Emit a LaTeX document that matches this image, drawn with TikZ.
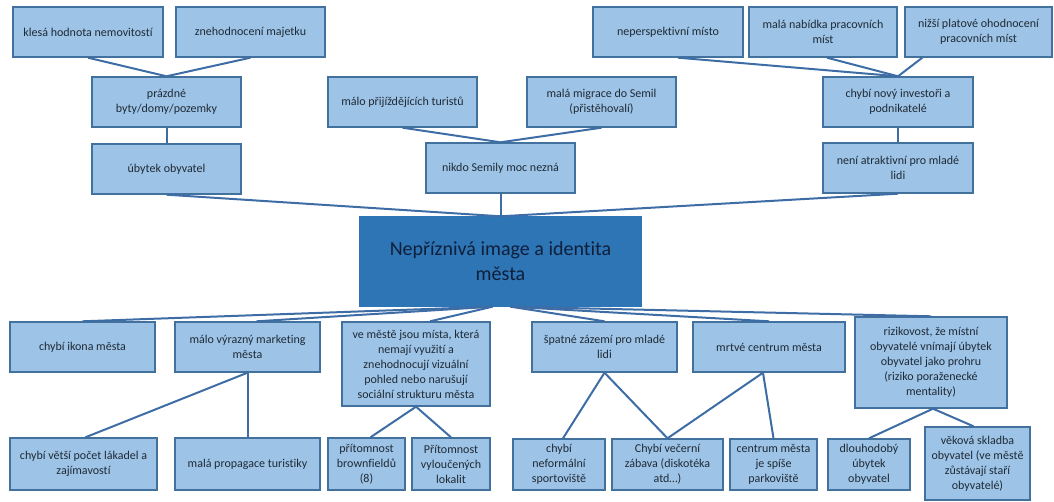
\documentclass[tikz,border=0pt]{standalone}
\usepackage{fontspec}
\setmainfont{Carlito}[Ligatures=NoCommon]
\definecolor{boxfill}{HTML}{9DC3E6}
\definecolor{boxline}{HTML}{41719C}
\definecolor{linkc}{HTML}{3E6DA6}
\definecolor{mainfill}{HTML}{2E75B6}
\definecolor{maintext}{HTML}{0F1F3A}
\definecolor{txt}{HTML}{1F2A36}
\tikzset{
  bx/.style={draw=boxline, line width=1.4pt, fill=boxfill, align=center, inner sep=2pt,
    text=txt, font=\fontsize{12}{15}\selectfont},
  mainbx/.style={draw=mainfill, line width=1.4pt, fill=mainfill, align=center, inner sep=2pt,
    text=maintext, font=\fontsize{20}{25}\selectfont},
  lk/.style={draw=linkc, line width=2pt}
}
\begin{document}
\begin{tikzpicture}[x=1pt,y=-1pt]
\useasboundingbox (0,0) rectangle (1054,502);
% top left
\node[bx, minimum width=150pt, minimum height=50pt] (kles) at (88,32) {klesá hodnota nemovitostí};
\node[bx, minimum width=149pt, minimum height=50pt] (zneh) at (250.5,32) {znehodnocení majetku};
\node[bx, minimum width=149pt, minimum height=50pt] (prazd) at (166.5,102) {prázdné\\byty/domy/pozemky};
\node[bx, minimum width=149pt, minimum height=50pt] (ubyt) at (166.5,169) {úbytek obyvatel};
% top middle
\node[bx, minimum width=149pt, minimum height=50pt] (malo) at (402.5,102) {málo přijíždějících turistů};
\node[bx, minimum width=149pt, minimum height=50pt] (migr) at (601.5,102) {malá migrace do Semil\\(přistěhovalí)};
\node[bx, minimum width=149pt, minimum height=50pt] (nikdo) at (500.5,168) {nikdo Semily moc nezná};
% top right
\node[bx, minimum width=150pt, minimum height=50pt] (nepersp) at (668,32) {neperspektivní místo};
\node[bx, minimum width=148pt, minimum height=50pt] (nabidka) at (823,32) {malá nabídka pracovních\\míst};
\node[bx, minimum width=147pt, minimum height=50pt] (nizsi) at (978.5,32) {nižší platové ohodnocení\\pracovních míst};
\node[bx, minimum width=150pt, minimum height=50pt] (invest) at (898,102) {chybí nový investoři a\\podnikatelé};
\node[bx, minimum width=150pt, minimum height=50pt] (atrakt) at (898,168) {není atraktivní pro mladé\\lidi};
% center
\node[mainbx, minimum width=281pt, minimum height=89pt] (main) at (500.5,261.5) {Nepříznivá image a identita\\města};
% bottom row 1
\node[bx, minimum width=145pt, minimum height=50pt] (ikona) at (82.5,347) {chybí ikona města};
\node[bx, minimum width=145pt, minimum height=50pt] (mark) at (247.5,347) {málo výrazný marketing\\města};
\node[bx, minimum width=148pt, minimum height=84pt] (mesto) at (416,364) {ve městě jsou místa, která\\nemají využití a\\znehodnocují vizuální\\pohled nebo narušují\\sociální strukturu města};
\node[bx, minimum width=145pt, minimum height=50pt] (zazemi) at (604.5,347) {špatné zázemí pro mladé\\lidi};
\node[bx, minimum width=152pt, minimum height=50pt] (mrtve) at (769,347) {mrtvé centrum města};
\node[bx, minimum width=152pt, minimum height=91pt] (riziko) at (931,362.5) {rizikovost, že místní\\obyvatelé vnímají úbytek\\obyvatel jako prohru\\(riziko poraženecké\\mentality)};
% bottom row 2
\node[bx, minimum width=147pt, minimum height=52pt] (lakadel) at (83.5,464) {chybí větší počet lákadel a\\zajímavostí};
\node[bx, minimum width=145pt, minimum height=52pt] (propag) at (247.5,464) {malá propagace turistiky};
\node[bx, minimum width=77pt, minimum height=52pt] (brown) at (366.5,464) {přítomnost\\brownfieldů\\(8)};
\node[bx, minimum width=78pt, minimum height=52pt] (vylouc) at (451,464) {Přítomnost\\vyloučených\\lokalit};
\node[bx, minimum width=92pt, minimum height=51pt] (neform) at (559,464.5) {chybí\\neformální\\sportoviště};
\node[bx, minimum width=111pt, minimum height=51pt] (vecer) at (667.5,464.5) {Chybí večerní\\zábava (diskotéka\\atd…)};
\node[bx, minimum width=87pt, minimum height=51pt] (centrum) at (773.5,464.5) {centrum města\\je spíše\\parkoviště};
\node[bx, minimum width=82pt, minimum height=51pt] (dlouho) at (869,464.5) {dlouhodobý\\úbytek\\obyvatel};
\node[bx, minimum width=105pt, minimum height=73pt] (vekova) at (977.5,463.5) {věková skladba\\obyvatel (ve městě\\zůstávají staří\\obyvatelé)};
% connectors top
\draw[lk] (kles.south) -- (prazd.north);
\draw[lk] (zneh.south) -- (prazd.north);
\draw[lk] (prazd.south) -- (ubyt.north);
\draw[lk] (malo.south) -- (nikdo.north);
\draw[lk] (migr.south) -- (nikdo.north);
\draw[lk] ([xshift=10pt]nepersp.south) -- (invest.north);
\draw[lk] ([xshift=4pt]nabidka.south) -- (invest.north);
\draw[lk] ([xshift=18pt]nizsi.south west) -- (invest.north);
\draw[lk] (invest.south) -- (atrakt.north);
\draw[lk] (ubyt.south) -- (main.north);
\draw[lk] (nikdo.south) -- (main.north);
\draw[lk] (atrakt.south) -- (main.north);
% connectors bottom
\coordinate (mL) at ([xshift=-8pt]main.south);
\coordinate (mR) at ([xshift=10pt]main.south);
\draw[lk] (mL) -- (ikona.north);
\draw[lk] (mL) -- ([xshift=9pt]mark.north);
\draw[lk] (mL) -- ([xshift=14pt]mesto.north);
\draw[lk] (mR) -- (zazemi.north);
\draw[lk] (mR) -- (mrtve.north);
\draw[lk] (mR) -- (riziko.north);
\draw[lk] (mark.south) -- ([xshift=2pt]lakadel.north);
\draw[lk] (mark.south) -- (propag.north);
\draw[lk] (mesto.south) -- ([xshift=4pt]brown.north);
\draw[lk] (mesto.south) -- (vylouc.north);
\draw[lk] (zazemi.south) -- ([xshift=4pt]neform.north);
\draw[lk] (zazemi.south) -- (vecer.north);
\draw[lk] ([xshift=-6pt]mrtve.south) -- (vecer.north);
\draw[lk] ([xshift=-6pt]mrtve.south) -- (centrum.north);
\draw[lk] ([xshift=2pt]riziko.south) -- (dlouho.north);
\draw[lk] ([xshift=2pt]riziko.south) -- ([xshift=-4pt]vekova.north);
\end{tikzpicture}
\end{document}
